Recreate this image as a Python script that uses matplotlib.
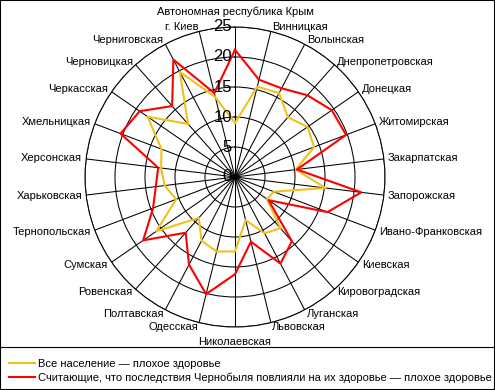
import numpy as np
import matplotlib
matplotlib.use("Agg")
import matplotlib.pyplot as plt
from matplotlib.lines import Line2D
from matplotlib.patches import Rectangle

plt.rcParams['font.family'] = ['Liberation Sans', 'DejaVu Sans']

# Регионы (по часовой стрелке, начиная сверху)
regions = ["Автономная республика Крым", "Винницкая", "Волынская", "Днепропетровская",
           "Донецкая", "Житомирская", "Закарпатская", "Запорожская", "Ивано-Франковская",
           "Киевская", "Кировоградская", "Луганская", "Львовская", "Николаевская",
           "Одесская", "Полтавская", "Ровенская", "Сумская", "Тернопольская",
           "Харьковская", "Херсонская", "Хмельницкая", "Черкасская", "Черновицкая",
           "Черниговская", "г. Киев"]

# Все население — плохое здоровье, %
all_pop = [9.0, 15.5, 15.8, 13.3, 14.7, 14.1, 10.2, 15.2, 6.9, 6.5, 11.4, 10.6, 7.4,
           12.4, 12.8, 12.0, 9.1, 15.9, 10.5, 11.8, 12.4, 13.1, 17.7, 11.8, 19.8, 13.7]

# Считающие, что последствия Чернобыля повлияли на их здоровье — плохое здоровье, %
chern = [21.2, 16.7, 16.7, 18.2, 19.6, 19.8, 10.4, 21.2, 16.5, 6.8, 14.3, 16.3, 11.1,
         16.2, 20.1, 16.5, 12.4, 18.6, 14.6, 13.3, 12.9, 20.4, 19.3, 15.8, 22.1, 14.4]

r_ticks = [0, 5, 10, 15, 20, 25]
r_max = 25

label_all = "Все население — плохое здоровье"
label_chern = "Считающие, что последствия Чернобыля повлияли на их здоровье — плохое здоровье"

n = len(regions)
theta = np.arange(n) * 2 * np.pi / n
th_closed = np.append(theta, theta[0])

fig = plt.figure(figsize=(4.95, 3.9), dpi=100)
ax_rect = [85 / 495, 63 / 390, 300 / 495, 300 / 390]
ax = fig.add_axes(ax_rect, projection='polar')
ax.set_theta_zero_location('N')
ax.set_theta_direction(-1)

ax.plot(th_closed, np.append(all_pop, all_pop[0]), color='#EEC21B', lw=1.5, zorder=3)
ax.plot(th_closed, np.append(chern, chern[0]), color='#FF0000', lw=1.5, zorder=4)

ax.set_ylim(0, r_max)
ax.set_yticks(r_ticks)
ax.set_yticklabels([])
ax.set_xticks(theta)
ax.set_xticklabels([])
ax.grid(True, color='black', lw=0.75)
ax.spines['polar'].set_color('black')
ax.spines['polar'].set_linewidth(0.75)

# подписи шкалы (вдоль верхнего луча, слева от него)
cx = ax_rect[0] + ax_rect[2] / 2 - 3 / 495
for r in r_ticks:
    cy = ax_rect[1] + ax_rect[3] / 2 + ax_rect[3] / 2 * r / r_max
    fig.text(cx, cy, str(r), ha='right', va='center', fontsize=12,
             color='black', zorder=10)

# подписи регионов
for t, name in zip(theta, regions):
    s, c = np.sin(t), np.cos(t)
    if abs(s) < 0.05:
        d = 7
        ha = 'center'
        va = 'bottom' if c > 0 else 'top'
    else:
        d = 3
        ha = 'left' if s > 0 else 'right'
        va = 'center'
    ax.annotate(name, xy=(t, r_max), xytext=(d * s, d * c), textcoords='offset points',
                ha=ha, va=va, fontsize=8, annotation_clip=False)

# легенда
handles = [Line2D([], [], color='#EEC21B', lw=1.5), Line2D([], [], color='#FF0000', lw=1.5)]
fig.legend(handles, [label_all, label_chern], loc='upper left',
           bbox_to_anchor=(9 / 495, 1 - 359 / 390), frameon=False, fontsize=8,
           handlelength=2.3, handletextpad=0.3, labelspacing=0.35,
           borderpad=0, borderaxespad=0)

fig.add_artist(Line2D([0, 1], [1 - 347 / 390, 1 - 347 / 390], transform=fig.transFigure,
                      color='black', lw=0.8))
fig.add_artist(Rectangle((0, 0), 1, 1, transform=fig.transFigure, fill=False,
                         ec='black', lw=1.5))

fig.savefig("out.png", dpi=100)
